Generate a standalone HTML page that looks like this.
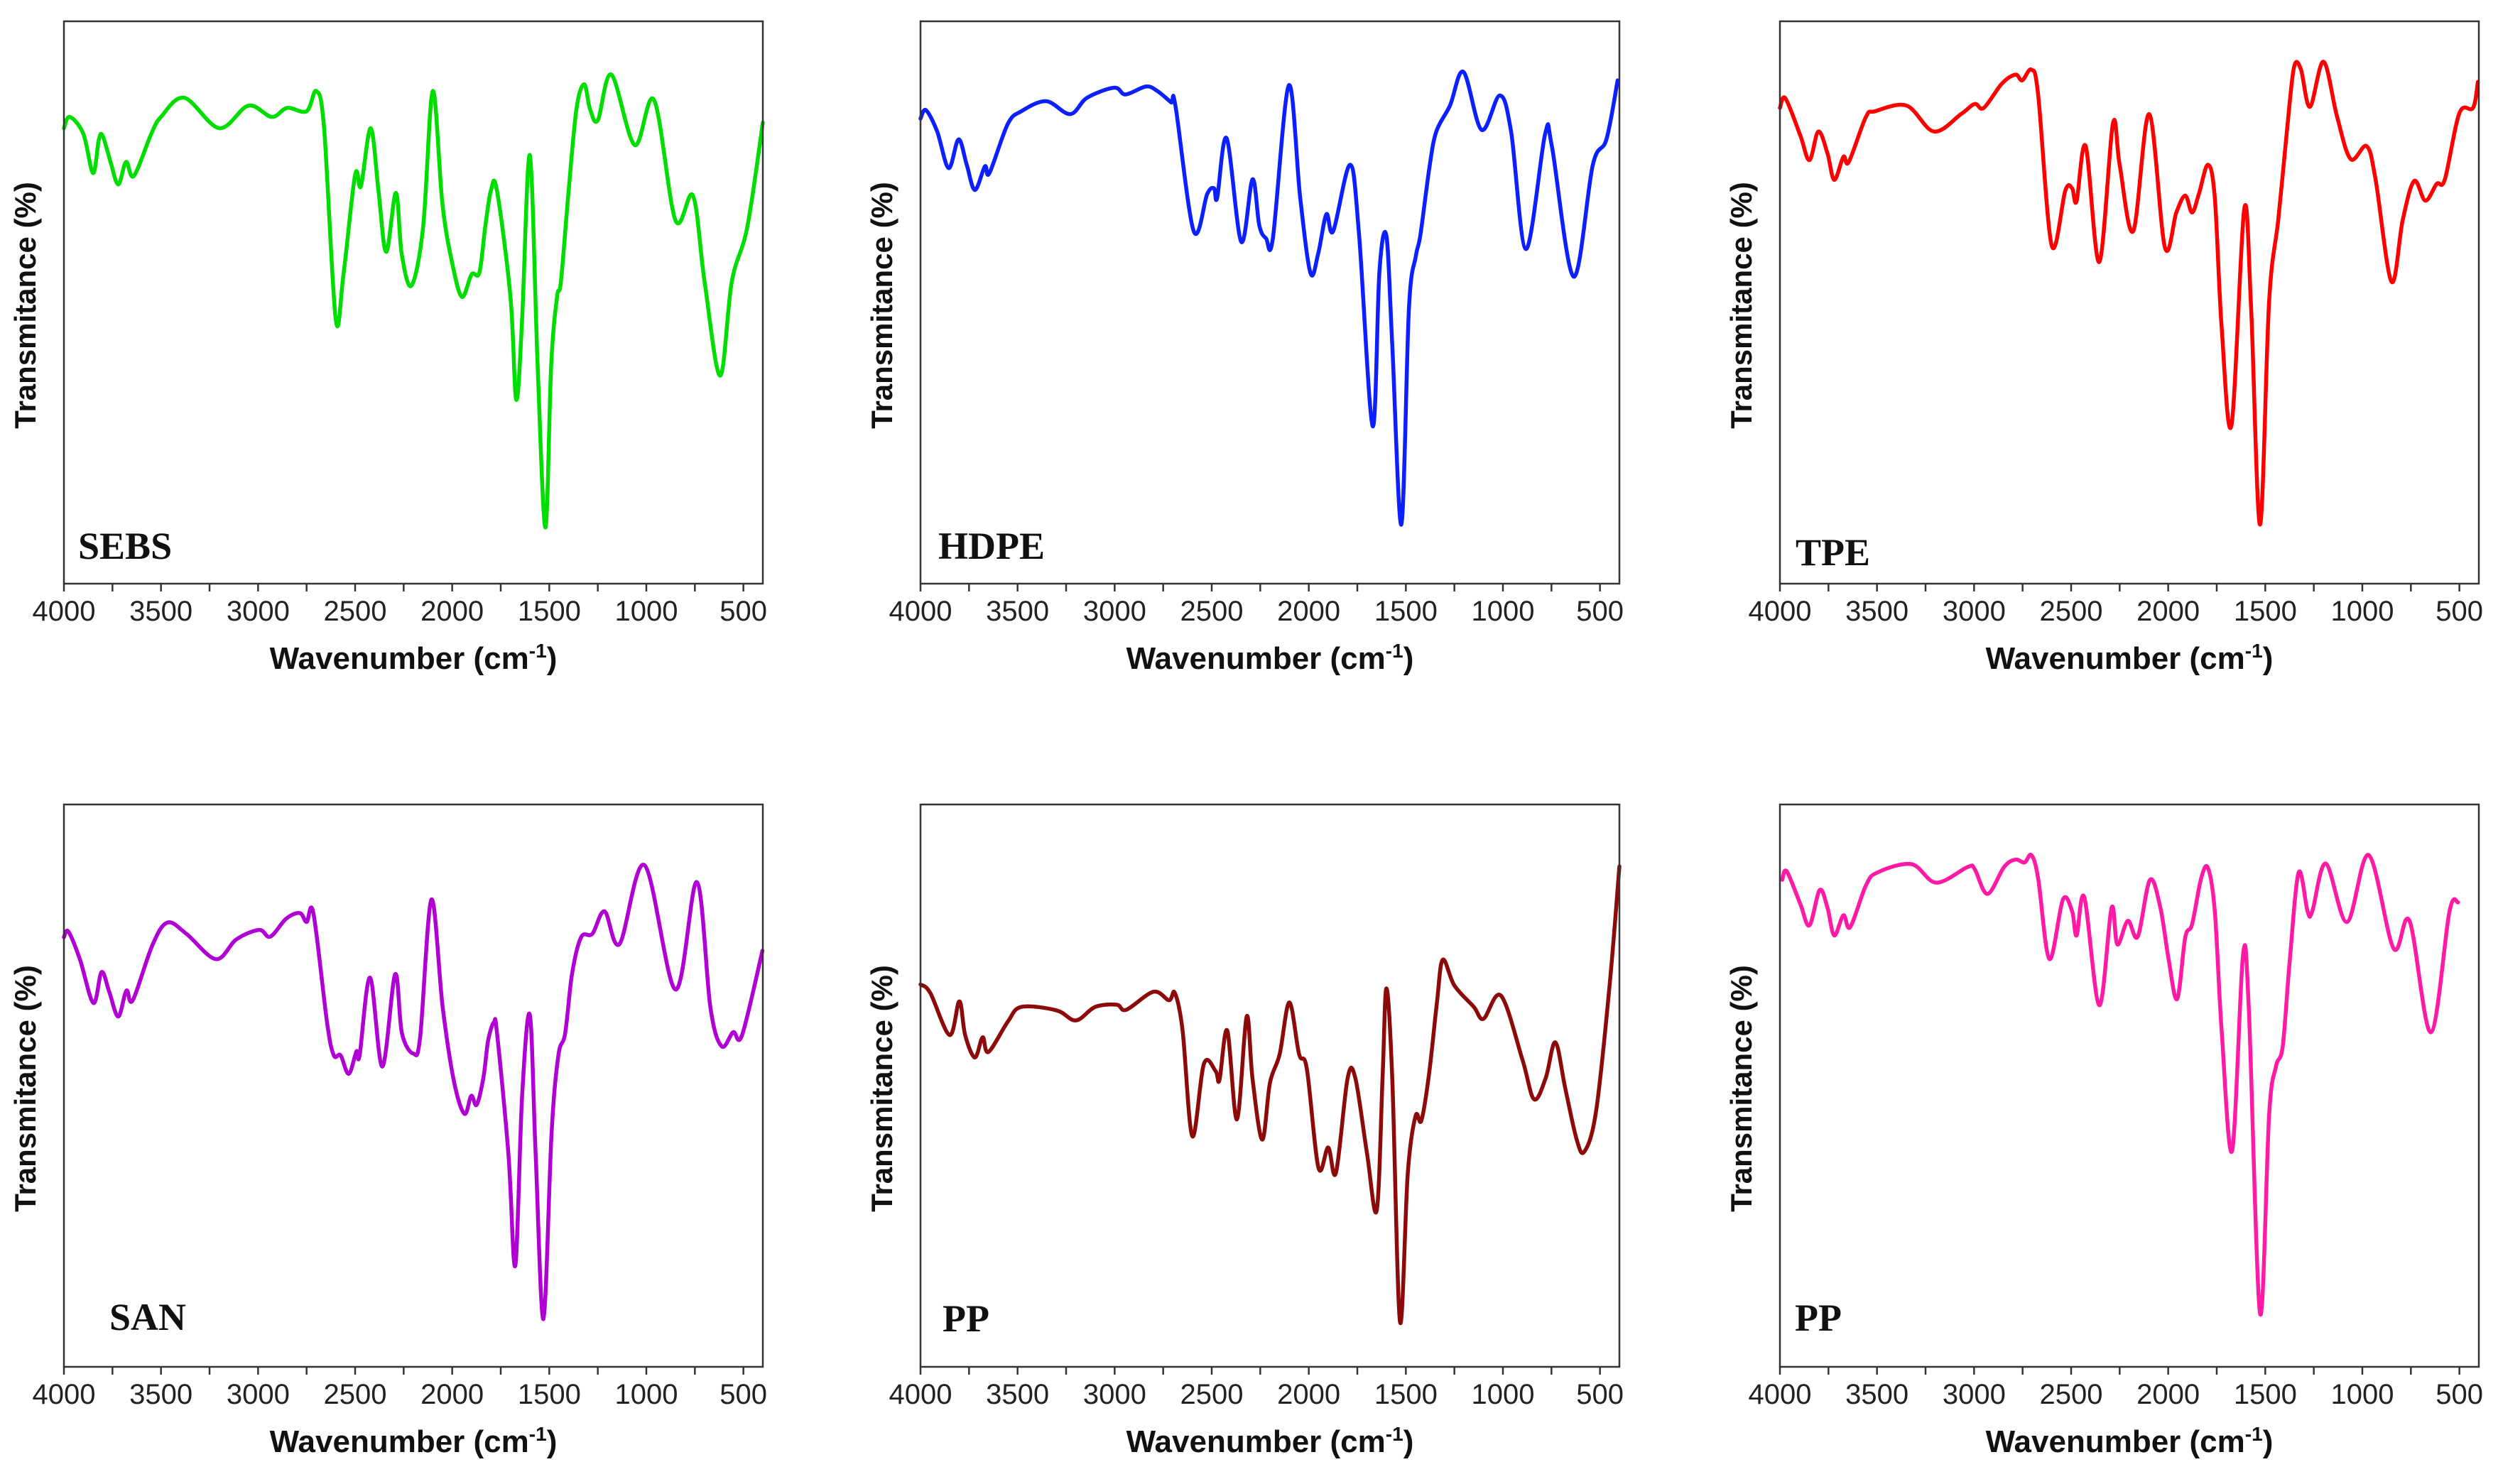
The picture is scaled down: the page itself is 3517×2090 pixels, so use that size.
<!DOCTYPE html>
<html><head><meta charset="utf-8"><style>
html,body{margin:0;padding:0;background:#fff;}
svg{display:block;}
.tick{font-family:"Liberation Sans",sans-serif;font-size:40px;fill:#222;}
.xt{font-family:"Liberation Sans",sans-serif;font-size:44px;font-weight:bold;fill:#111;}
.yt{font-family:"Liberation Sans",sans-serif;font-size:42px;font-weight:bold;fill:#111;}
.lab{font-family:"Liberation Serif",serif;font-size:54px;font-weight:bold;fill:#111;}
</style></head><body>
<svg id="fig" width="3517" height="2090" viewBox="0 0 3517 2090" xmlns="http://www.w3.org/2000/svg"></svg>
<script>
const tickValues=[4000,3500,3000,2500,2000,1500,1000,500];
const sebsW=[4000,3970,3900,3850,3820,3800,3760,3720,3680,3640,3550,3500,3380,3200,3050,2930,2850,2750,2700,2660,2600,2560,2500,2470,2420,2380,2340,2290,2260,2210,2150,2100,2050,2000,1950,1900,1860,1830,1800,1770,1700,1670,1640,1610,1590,1560,1520,1490,1460,1440,1400,1360,1320,1290,1250,1180,1060,960,850,760,700,620,560,480,400];
const sebsT=[81,83,80,73,79,79.6,75,71,75,72.5,80,83,86.4,81,85,83,84.6,84,87.6,81,47,55,72.7,70.7,81,70,59,69.5,58.6,53,63.4,87.6,67.4,57,51,55,55.3,63.4,70,70,51,32.7,47,73.5,71.5,39,10,39,51,53.7,70,84.4,88.8,84.4,82.4,90.5,78,86,64.6,69,53.7,37,53.7,63.4,82];
const hdpeW=[4000,3972,3914,3855,3804,3762,3720,3668,3645,3551,3481,3353,3229,3142,3002,2944,2839,2780,2710,2687,2593,2523,2488,2472,2423,2348,2290,2255,2220,2185,2103,2044,1991,1951,1909,1874,1787,1741,1671,1636,1600,1570,1523,1484,1449,1425,1379,1343,1273,1203,1110,1016,958,881,783,748,636,537,467,409];
const hdpeT=[82.7,84.2,80.4,73.9,79,74.5,70,74.2,73,81.7,84,85.8,83.5,86.4,88.2,87,88.4,87.6,85.6,85,62.7,69.3,70.3,68.6,79.2,60.8,71.9,63.7,61.4,61.4,88.6,68.6,55.2,58.8,65.7,62.7,74.5,62,28,55.6,61.8,42.5,10.5,49,58.2,62,73.9,80.4,85,91,80.7,86.8,80.4,59.5,79.9,77.8,54.6,74.5,79,89.5];
const tpeW=[4000,3972,3895,3848,3802,3755,3720,3673,3645,3557,3510,3347,3207,3067,2997,2950,2857,2787,2752,2705,2670,2600,2530,2495,2472,2425,2355,2285,2250,2180,2098,2017,1958,1912,1877,1842,1795,1760,1725,1674,1608,1573,1527,1480,1433,1387,1352,1317,1270,1200,1130,1060,978,932,850,792,733,675,617,575,500,430,405];
const tpeT=[84.6,86.3,79.7,75.3,80.4,76.5,71.8,75.9,75,83,84,85,80.4,83.5,85.3,84.6,88.9,90.5,89.5,91.4,87,60.1,69.9,70.3,68,77.8,57.2,81.8,74.5,62.7,83.5,59.8,66,69,66,69.3,74.5,68.6,45.8,28.2,66.7,49,10.5,50.3,64.7,81,91.8,91.5,84.8,92.8,83,75.5,77.8,71.9,53.7,64.7,71.6,68.1,71.1,71.9,83.7,84.6,89.2];
const sanW=[4000,3977,3918,3848,3806,3766,3720,3678,3645,3544,3467,3369,3217,3112,2995,2937,2855,2785,2750,2715,2645,2610,2575,2533,2493,2477,2423,2360,2294,2259,2200,2165,2107,2049,1991,1937,1902,1874,1839,1815,1785,1769,1710,1675,1640,1600,1570,1530,1488,1453,1418,1383,1336,1278,1215,1138,1009,850,740,670,612,553,507,402];
const sanT=[76.4,77.4,72.5,64.7,70.2,66.6,62.3,66.9,65.2,75,79,77,72.5,76,77.7,76.5,79.7,80.7,79.1,80.7,61.3,55.4,55.4,52.1,56.1,55.4,69.2,53.4,69.8,59.3,55.7,58.7,83.1,63.9,50.8,45,48.2,46.6,51.5,58,61.3,59.3,37.7,18,48.2,62.6,37.7,8.5,41.6,55.4,59.3,69.8,76.4,77,81,75.2,89.2,67.1,86.2,63.9,57,59.5,59,74];
const ppW=[4000,3950,3850,3800,3770,3720,3680,3650,3550,3480,3300,3200,3100,2990,2940,2800,2720,2690,2650,2600,2540,2480,2460,2420,2370,2320,2290,2240,2200,2150,2100,2050,2010,1950,1900,1860,1800,1760,1700,1650,1620,1600,1570,1530,1490,1450,1420,1380,1340,1310,1250,1150,1100,1010,900,840,780,730,680,620,580,520,450,400];
const ppT=[68,66.5,59,65,59,55,58.6,56,61.4,64,63.4,61.6,64,64.4,63.5,66.7,65.2,66.5,59.8,41,53.9,52.6,51,59.8,44,62.3,51.3,40.4,50.5,55.6,64.8,55.6,53,35.4,39,34.5,51.3,51.3,37.9,27.8,51.3,67.3,51.3,8,34.5,44.6,43.8,52.2,64.8,72.4,67.8,64,61.9,66,54.7,47.6,51.3,57.7,49.7,40.4,38.3,45.5,68,89];
const pp2W=[3988,3965,3895,3848,3795,3755,3720,3673,3638,3557,3498,3323,3195,3032,2997,2931,2845,2787,2740,2705,2670,2612,2542,2495,2472,2432,2355,2292,2262,2208,2157,2094,2040,1998,1954,1912,1877,1830,1795,1760,1725,1671,1615,1585,1527,1480,1445,1410,1375,1328,1282,1258,1188,1079,967,839,757,647,551,507];
const pp2T=[86.6,88.1,82.3,78.5,84.8,81.6,76.7,80.3,78.2,85.6,87.9,89.4,86.1,88.9,88.5,84.1,88.9,90.2,89.7,91,86.9,72.5,83.1,81,76.7,83.5,64.3,81.6,75.1,79.3,76.5,86.6,81.6,72.5,65.4,76.4,78.7,86.9,88.7,81,60,38.4,73.1,63.9,9.5,44.9,53.4,57,71.8,87.9,81,81,89.5,79.1,91,74.4,79.3,59.5,81,82.6];

const NS='http://www.w3.org/2000/svg';
const svg=document.getElementById('fig');
function mk(tag,attrs,parent){const e=document.createElementNS(NS,tag);for(const k in attrs)e.setAttribute(k,attrs[k]);(parent||svg).appendChild(e);return e;}
function smooth(pts){
  let d='M'+pts[0][0].toFixed(1)+' '+pts[0][1].toFixed(1);
  for(let i=0;i<pts.length-1;i++){
    const p0=pts[Math.max(0,i-1)],p1=pts[i],p2=pts[i+1],p3=pts[Math.min(pts.length-1,i+2)];
    const c1x=p1[0]+(p2[0]-p0[0])/6,c1y=p1[1]+(p2[1]-p0[1])/6;
    const c2x=p2[0]-(p3[0]-p1[0])/6,c2y=p2[1]-(p3[1]-p1[1])/6;
    d+='C'+c1x.toFixed(1)+' '+c1y.toFixed(1)+' '+c2x.toFixed(1)+' '+c2y.toFixed(1)+' '+p2[0].toFixed(1)+' '+p2[1].toFixed(1);
  }
  return d;
}
const panels=[
 {name:'sebs',label:'SEBS',w:sebsW,t:sebsT,color:'#00dd00',x0:90,y0:30,lx:110,ly:787},
 {name:'hdpe',label:'HDPE',w:hdpeW,t:hdpeT,color:'#0b1fff',x0:1296,y0:30,lx:1321,ly:787},
 {name:'tpe',label:'TPE',w:tpeW,t:tpeT,color:'#ff0000',x0:2506,y0:30,lx:2528,ly:796},
 {name:'san',label:'SAN',w:sanW,t:sanT,color:'#b000d4',x0:90,y0:1133,lx:154,ly:1873},
 {name:'pp-dark',label:'PP',w:ppW,t:ppT,color:'#8c0a0a',x0:1296,y0:1133,lx:1327,ly:1875},
 {name:'pp-pink',label:'PP',w:pp2W,t:pp2T,color:'#ff1aa6',x0:2506,y0:1133,lx:2527,ly:1874}
];
const PW=984, PH=792;
panels.forEach(p=>{
  const g=mk('g',{});
  
  
  const xs=w=>p.x0+(4000-w)/3600*PW;
  const ys=t=>p.y0+PH-(t/100)*PH;
  const pts=p.w.map((w,i)=>[xs(w),ys(p.t[i])]);
  const path=mk('path',{d:smooth(pts),fill:'none',stroke:p.color,'stroke-width':5.5,'stroke-linejoin':'round','stroke-linecap':'round'},g);
  
  
  const fr=mk('rect',{x:p.x0,y:p.y0,width:PW,height:PH,fill:'none',stroke:'#333','stroke-width':2.5},g);
  
  
  for(let w=4000;w>=400;w-=250){
    const tk=mk('line',{x1:xs(w),x2:xs(w),y1:p.y0+PH,y2:p.y0+PH+11,stroke:'#333','stroke-width':2.5},g);
    
    
  }
  tickValues.forEach(v=>{
    const tl=mk('text',{x:xs(v),y:p.y0+PH+52,'text-anchor':'middle',class:'tick'},g);
    tl.textContent=v;
    
    
  });
  const xt=mk('text',{x:p.x0+492,y:p.y0+PH+120,'text-anchor':'middle',class:'xt'},g);
  xt.innerHTML='Wavenumber (cm<tspan dy="-16" font-size="28">-1</tspan><tspan dy="16">)</tspan>';
  
  
  const cy=p.y0+400, cx=p.x0-40;
  const yt=mk('text',{x:cx,y:cy,'text-anchor':'middle',class:'yt',transform:'rotate(-90 '+cx+' '+cy+')'},g);
  yt.textContent='Transmitance (%)';
  
  
  const lb=mk('text',{x:p.lx,y:p.ly,class:'lab'},g);
  lb.textContent=p.label;
  
  
});
</script>
</body></html>
